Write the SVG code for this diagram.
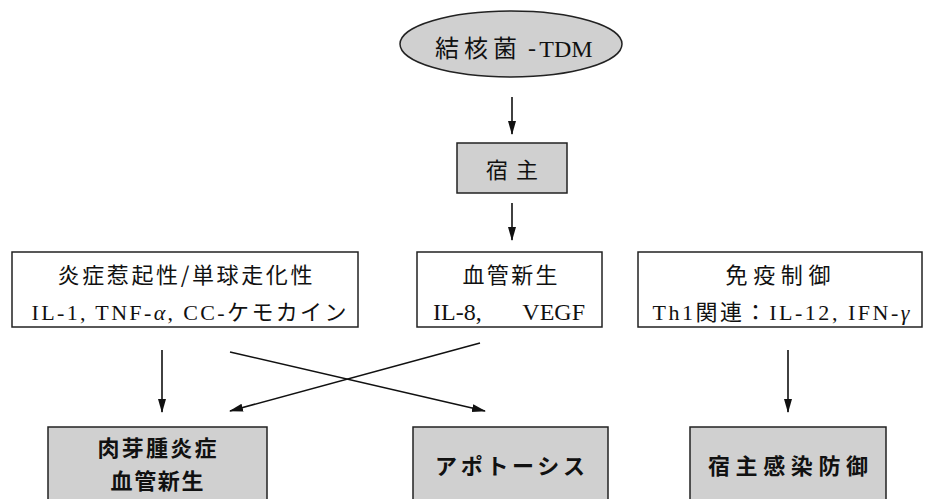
<svg xmlns="http://www.w3.org/2000/svg" width="928" height="499" viewBox="0 0 928 499">
<style>
.box{fill:#fff;stroke:#222;stroke-width:1.5}
.gbox{fill:#d0d0d0;stroke:#222;stroke-width:1.5}
.jp{font-family:"Noto Sans CJK JP","Liberation Serif",sans-serif;font-size:22px;fill:#111;text-anchor:middle}
.jb{font-family:"Noto Sans CJK JP",sans-serif;font-size:22px;font-weight:bold;fill:#111;text-anchor:middle}
.lt{font-family:"Liberation Serif","Noto Sans CJK JP",serif;font-size:22px;fill:#111;text-anchor:middle}
.conn{stroke:#111;stroke-width:1.6;fill:none;marker-end:url(#ah)}
</style>
<defs>
<marker id="ah" markerWidth="14" markerHeight="10" refX="13" refY="5" orient="auto" markerUnits="userSpaceOnUse">
<path d="M0,1 L14,5 L0,9 Z" fill="#111"/>
</marker>
</defs>
<rect width="928" height="499" fill="#fff"/>
<g id="node-tdm">
<ellipse cx="511" cy="44" rx="111" ry="33" class="gbox"/>
<text x="435" y="57" class="jp" style="font-size:24px;text-anchor:start;letter-spacing:5px">結核菌</text>
<text x="532" y="56" class="lt" style="font-size:24px">-</text>
<text x="566" y="57" class="lt" style="font-size:24px">TDM</text>
</g>
<g id="node-host">
<rect x="457" y="143" width="110" height="50" class="gbox"/>
<text x="512" y="178" class="jp" textLength="52" lengthAdjust="spacing">宿 主</text>
</g>
<g id="node-inflam">
<rect x="12" y="252" width="346" height="75" class="box"/>
<text x="185" y="283" class="jp" textLength="255" lengthAdjust="spacing">炎症惹起性/単球走化性</text>
<text x="189" y="320" class="lt" textLength="315" lengthAdjust="spacing">IL-1, TNF-<tspan font-style="italic">α</tspan>, CC-ケモカイン</text>
</g>
<g id="node-angio">
<rect x="417" y="252" width="185" height="75" class="box"/>
<text x="510" y="283" class="jp" textLength="95" lengthAdjust="spacing">血管新生</text>
<text x="433" y="320" class="lt" style="font-size:24px;text-anchor:start">IL-8,</text>
<text x="585" y="320" class="lt" style="font-size:24px;text-anchor:end">VEGF</text>
</g>
<g id="node-immune">
<rect x="638" y="252" width="284" height="75" class="box"/>
<text x="778" y="283" class="jp" textLength="105" lengthAdjust="spacing">免疫制御</text>
<text x="781" y="320" class="lt" textLength="257" lengthAdjust="spacing">Th1関連：IL-12, IFN-<tspan font-style="italic">γ</tspan></text>
</g>
<g id="node-granuloma">
<rect x="48" y="427" width="219" height="90" class="gbox"/>
<text x="157" y="456" class="jb" textLength="119" lengthAdjust="spacing">肉芽腫炎症</text>
<text x="157" y="489" class="jb" textLength="93" lengthAdjust="spacing">血管新生</text>
</g>
<g id="node-apoptosis">
<rect x="413" y="427" width="195" height="90" class="gbox"/>
<text x="510" y="474" class="jb" textLength="150" lengthAdjust="spacing">アポトーシス</text>
</g>
<g id="node-defense">
<rect x="690" y="427" width="196" height="90" class="gbox"/>
<text x="788" y="474" class="jb" textLength="160" lengthAdjust="spacing">宿主感染防御</text>
</g>
<g id="connectors">
<line x1="512" y1="97" x2="512" y2="134" class="conn"/>
<line x1="512" y1="203" x2="512" y2="240" class="conn"/>
<line x1="162" y1="350" x2="162" y2="412" class="conn"/>
<line x1="230" y1="352" x2="485" y2="411" class="conn"/>
<line x1="480" y1="343" x2="230" y2="411" class="conn"/>
<line x1="788" y1="350" x2="788" y2="412" class="conn"/>
</g>
</svg>
